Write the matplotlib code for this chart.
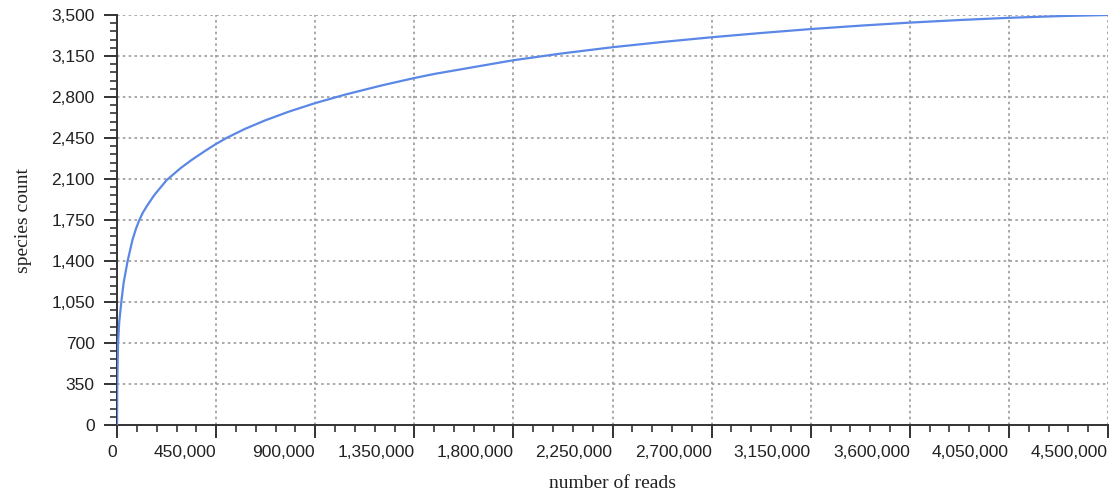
import matplotlib
matplotlib.use("Agg")
import matplotlib.pyplot as plt
from matplotlib.ticker import MultipleLocator, FuncFormatter

# Rarefaction curve: sequencing depth vs. observed species
reads = [0, 1000, 4500, 10000, 20000, 30000, 48000, 70000, 85000, 100000,
         117000, 135000, 170000, 226000, 290000, 339000, 400000, 450000,
         500000, 580000, 672000, 780000, 900000, 1035000, 1202000, 1350000,
         1444000, 1800000, 2025000, 2250000, 2478000, 2700000, 2929000,
         3150000, 3383000, 3600000, 3836000, 4050000, 4287000, 4500000]
species = [0, 350, 700, 880, 1060, 1215, 1400, 1580, 1670, 1745,
           1812, 1868, 1965, 2092, 2195, 2263, 2340, 2400,
           2453, 2527, 2600, 2675, 2748, 2820, 2899, 2962,
           2998, 3114, 3173, 3225, 3270, 3310, 3347,
           3380, 3410, 3435, 3458, 3476, 3491, 3500]

x_major = 450000
x_minor = 90000
y_major = 350
y_minor = 70

fig = plt.figure(figsize=(11.19, 4.95), dpi=100)
ax = fig.add_axes([0.1046, 0.1414, 0.8856, 0.8283])

ax.plot(reads, species, color="#5b87e6", lw=1.6, solid_joinstyle="round",
        solid_capstyle="round", zorder=3)

ax.set_xlim(0, 4500000)
ax.set_ylim(0, 3500)
ax.xaxis.set_major_locator(MultipleLocator(x_major))
ax.xaxis.set_minor_locator(MultipleLocator(x_minor))
ax.yaxis.set_major_locator(MultipleLocator(y_major))
ax.yaxis.set_minor_locator(MultipleLocator(y_minor))
fmt = FuncFormatter(lambda v, p: f"{int(round(v)):,}")
ax.xaxis.set_major_formatter(fmt)
ax.yaxis.set_major_formatter(fmt)

ax.grid(True, which="major", color="#9a9a9a", linestyle=(0, (1.5, 2)), linewidth=1.2, zorder=0)
ax.set_axisbelow(True)

for s in ("top", "right"):
    ax.spines[s].set_visible(False)
for s in ("left", "bottom"):
    ax.spines[s].set_color("#333333")
    ax.spines[s].set_linewidth(1.4)

ax.tick_params(which="major", direction="out", length=9.5, width=1.4, color="#333333",
               labelsize=12.5, labelcolor="#222222", labelfontfamily="Liberation Sans")
ax.tick_params(axis="y", which="major", pad=6.5)
ax.tick_params(axis="x", which="major", pad=5)
ax.tick_params(which="minor", direction="out", length=5, width=1.2, color="#333333")
for lbl in ax.get_xticklabels():
    lbl.set_horizontalalignment("right")

ax.set_xlabel("number of reads", family="Liberation Serif", fontsize=14, color="#222222", labelpad=11)
ax.set_ylabel("species count", family="Liberation Serif", fontsize=14, color="#222222", labelpad=14)

fig.savefig("out.png", dpi=100)
